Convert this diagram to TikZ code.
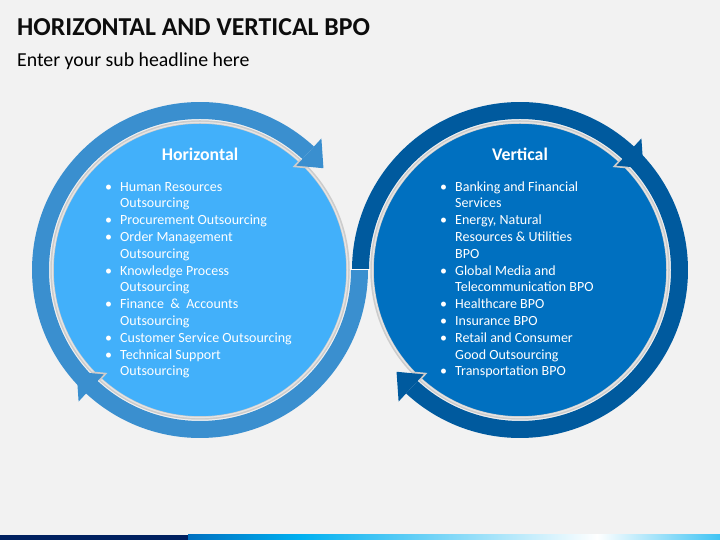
\documentclass[tikz,border=0pt]{standalone}
\usepackage{fontspec}
\setmainfont{Carlito}
\usepackage{xcolor}
\usetikzlibrary{calc}
\definecolor{bgGray}{HTML}{F2F2F2}
\definecolor{hRing}{HTML}{3A8FCF}
\definecolor{hDisc}{HTML}{42B0FA}
\definecolor{vRing}{HTML}{005A9E}
\definecolor{vDisc}{HTML}{0070C0}
\definecolor{navyBar}{HTML}{002060}
\definecolor{cyanBar}{HTML}{00B0F0}
\tikzset{>=latex}
\tikzset{
  rim/.style={line width=3.5pt, draw=black!20},
  headtext/.style={text=white, anchor=base, inner sep=0pt, font=\fontsize{17.8}{21}\selectfont\bfseries},
  listtext/.style={text=white, anchor=north west, inner sep=0pt, font=\fontsize{14}{16.8}\selectfont},
}
\newcommand{\ringband}[4]{%
  \fill[#4] ($(#1)+(#2:168)$) arc[start angle=#2, end angle=#3, radius=168]
    -- ($(#1)+(#3:151)$) arc[start angle=#3, end angle=#2, radius=151] -- cycle;}
\newcommand{\ringhead}[4]{%
  \begin{scope}
  \clip (#1) circle (148);
  \draw[rim] ($(#1)+(#2:179)$) -- ($(#1)+(#3:160)$) -- ($(#1)+(#2:142)$) -- cycle;
  \end{scope}
  \fill[#4] ($(#1)+(#2:179)$) -- ($(#1)+(#3:160)$) -- ($(#1)+(#2:142)$) -- cycle;}

\begin{document}
\begin{tikzpicture}[x=1pt, y=1pt]
\fill[bgGray] (0,0) rectangle (720,540);
\useasboundingbox (0,0) rectangle (720,540);
\coordinate (hc) at (200,270);
\coordinate (vc) at (520,270);

\ringband{hc}{47.3}{360}{hRing}
\ringband{vc}{-132.7}{180}{vRing}
\draw[white, line width=1pt] (350,270) -- (371,270);

\fill[hDisc] (hc) circle (148);
\draw[rim] (hc) circle (148);
\draw[white!90!black, line width=1.2pt] (hc) circle (147.5);
\fill[vDisc] (vc) circle (148);
\draw[rim] (vc) circle (148);
\draw[white!90!black, line width=1.2pt] (vc) circle (147.5);

\ringhead{hc}{47.3}{39.5}{hRing}
\ringhead{hc}{227.3}{219.5}{hRing}
\ringhead{vc}{47.3}{39.5}{vRing}
\ringhead{vc}{227.3}{219.5}{vRing}

\node[anchor=base west, inner sep=0pt, text=black!95, font=\fontsize{25.8}{30}\selectfont\bfseries] (title) at (17,504) {HORIZONTAL AND VERTICAL BPO};
\node[anchor=base west, inner sep=0pt, text=black, font=\fontsize{19.8}{24}\selectfont] (subtitle) at (17,473) {Enter your sub headline here};

\node[headtext] (hhead) at (200,379) {Horizontal};
\node[headtext] (vhead) at (520,379) {Vertical};

\node[listtext] (hlist) at (105,360.8) {\begin{tabular}{@{}p{15pt}@{}l@{}}
\textbullet & Human Resources\\
 & Outsourcing\\
\textbullet & Procurement Outsourcing\\
\textbullet & Order Management\\
 & Outsourcing\\
\textbullet & Knowledge Process\\
 & Outsourcing\\
\textbullet & Finance~ \&~ Accounts\\
 & Outsourcing\\
\textbullet & Customer Service Outsourcing\\
\textbullet & Technical Support\\
 & Outsourcing
\end{tabular}};

\node[listtext] (vlist) at (440,360.8) {\begin{tabular}{@{}p{15pt}@{}l@{}}
\textbullet & Banking and Financial\\
 & Services\\
\textbullet & Energy, Natural\\
 & Resources \& Utilities\\
 & BPO\\
\textbullet & Global Media and\\
 & Telecommunication BPO\\
\textbullet & Healthcare BPO\\
\textbullet & Insurance BPO\\
\textbullet & Retail and Consumer\\
 & Good Outsourcing\\
\textbullet & Transportation BPO
\end{tabular}};

\fill[navyBar] (0,0) rectangle (188,5);
\shade[left color=vDisc, right color=cyanBar] (188,0) rectangle (300.5,5);
\shade[left color=cyanBar, right color=white] (300,0) rectangle (597.5,5);
\shade[left color=white, right color=cyanBar!75] (597,0) rectangle (720,5);
\end{tikzpicture}
\end{document}
